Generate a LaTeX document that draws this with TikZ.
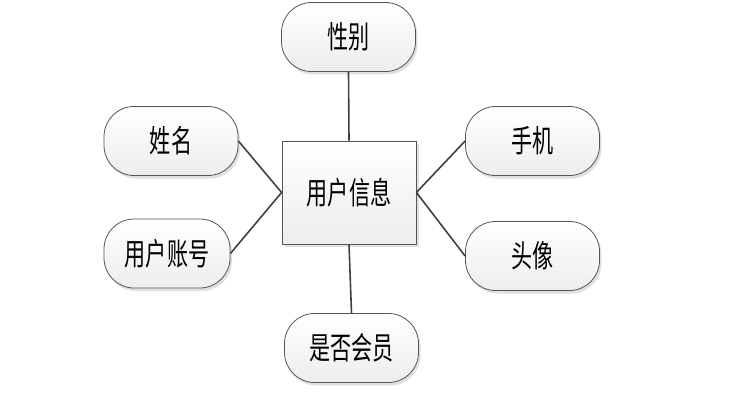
\documentclass[tikz,border=0pt]{standalone}
\usepackage{fontspec}
\setmainfont{Noto Sans CJK SC}[FakeStretch=0.68]
\usetikzlibrary{shadows}
\definecolor{edgecol}{HTML}{404040}
\definecolor{bordercol}{HTML}{555555}
\begin{document}
\begin{tikzpicture}[x=1pt,y=-1pt,
  attr/.style={draw=bordercol, line width=0.8pt, rounded corners=30pt,
    top color=white, bottom color=black!7, minimum width=#1, minimum height=69pt,
    inner sep=0pt, font=\fontsize{31}{34}\selectfont,
    drop shadow={shadow xshift=2pt, shadow yshift=-3pt, fill=black!12, opacity=1}},
  attr/.default=134pt,
  entity/.style={draw=bordercol, line width=0.8pt, top color=white, bottom color=black!7,
    minimum width=134pt, minimum height=103pt, inner sep=0pt,
    font=\fontsize{31}{34}\selectfont,
    drop shadow={shadow xshift=3pt, shadow yshift=-3pt, fill=black!12, opacity=1}},
  link/.style={draw=edgecol, line width=1.6pt}]
\useasboundingbox (0,0) rectangle (736,404);
\node[entity] (user) at (349,192.5) {用户信息};
\node[attr] (gender) at (348.5,37) {性别};
\node[attr] (name) at (171,141) {姓名};
\node[attr=126pt] (account) at (167,253.5) {用户账号};
\node[attr] (phone) at (532.5,141) {手机};
\node[attr] (avatar) at (532.5,256) {头像};
\node[attr] (member) at (351.5,348) {是否会员};
\coordinate (uL) at (user.west);
\coordinate (uR) at (user.east);
\draw[link] (gender.south) -- (user.north);
\draw[link] (name.east) -- (uL);
\draw[link] (account.east) -- (uL);
\draw[link] (phone.west) -- (uR);
\draw[link] (avatar.west) -- (uR);
\draw[link] (member.north) -- (user.south);
\end{tikzpicture}
\end{document}
